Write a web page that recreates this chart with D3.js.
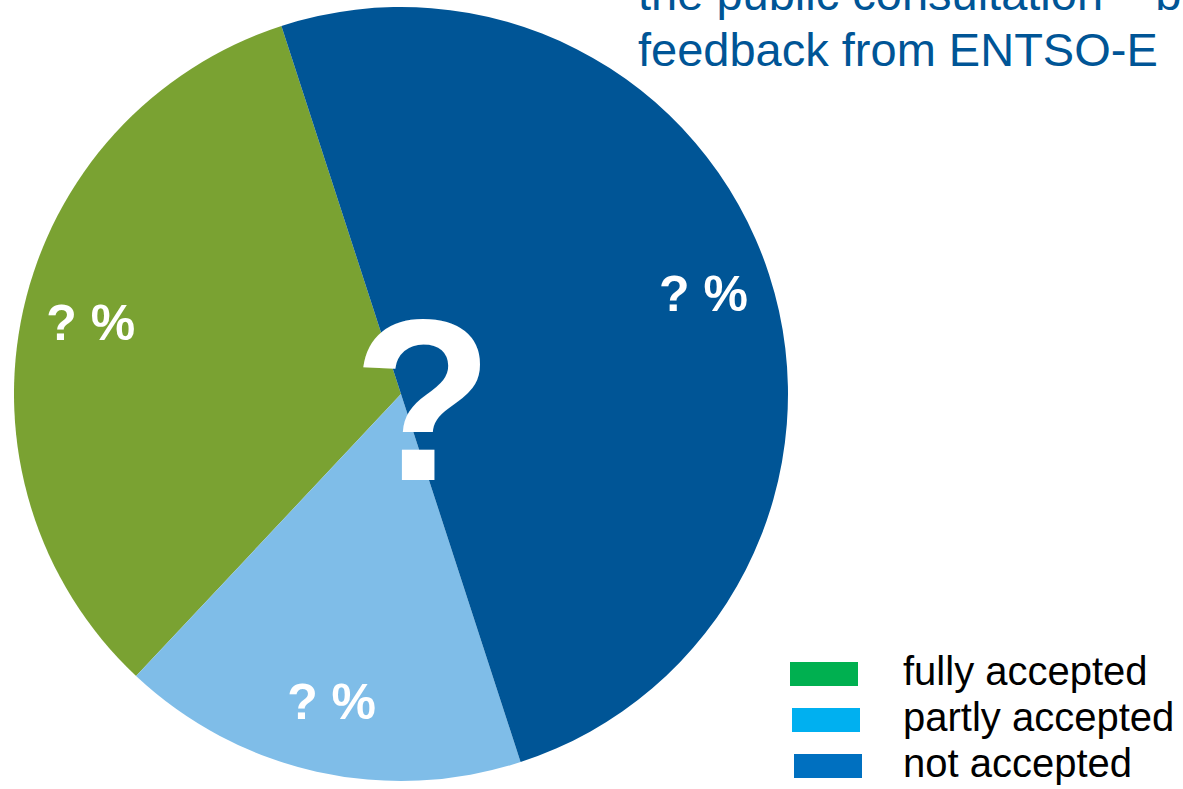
<!DOCTYPE html>
<html>
<head>
<meta charset="utf-8">
<script src="https://cdn.jsdelivr.net/npm/d3@7"></script>
<style>
  html, body { margin: 0; padding: 0; background: #fff; overflow: hidden; }
  svg { display: block; }
</style>
</head>
<body>
<svg id="chart" width="1183" height="789"></svg>
<script>
// ---- data ----
const categories = ["fully accepted", "partly accepted", "not accepted"];
const values = [33, 17, 50];
const sliceLabels = ["? %", "? %", "? %"];
const sliceColors = ["#7aa232", "#7fbde8", "#005596"];
const legendColors = ["#00b050", "#00b0f0", "#0070c0"];
const titleLines = ["the public consultation \u2013 based on", "feedback from ENTSO-E"];

const svg = d3.select("#chart");
const cx = 401, cy = 394, R = 387;
const deg = Math.PI / 180;

const data = categories.map((c, i) => ({ cat: c, value: values[i], label: sliceLabels[i], color: sliceColors[i], lcolor: legendColors[i] }));

// pie drawn counter-clockwise from ~342deg so that legend order matches
const pie = d3.pie().sort(null).value(d => d.value)
  .startAngle(342 * deg).endAngle(-18 * deg);
const arcs = pie(data);
const arc = d3.arc().innerRadius(0).outerRadius(R);
const labelArc = d3.arc().innerRadius(318).outerRadius(318);

const g = svg.append("g").attr("transform", `translate(${cx},${cy})`);
g.selectAll("path.slice").data(arcs).enter().append("path")
  .attr("class", "slice")
  .attr("d", arc)
  .attr("fill", d => d.data.color);

g.selectAll("text.lbl").data(arcs).enter().append("text")
  .attr("class", "lbl")
  .attr("transform", d => `translate(${labelArc.centroid(d)})`)
  .attr("text-anchor", "middle")
  .attr("dy", "0.3em")
  .attr("fill", "#fff")
  .style("font-family", "'Liberation Sans', Arial, sans-serif")
  .style("font-weight", "bold")
  .style("font-size", "50px")
  .text(d => d.data.label);

// big question mark overlay
g.append("text")
  .attr("x", 22).attr("y", 86)
  .attr("text-anchor", "middle")
  .attr("fill", "#fff")
  .style("font-family", "'Liberation Sans', Arial, sans-serif")
  .style("font-weight", "bold")
  .style("font-size", "230px")
  .text("?");

// title (clipped at top/right, as in reference)
svg.append("g").selectAll("text").data(titleLines).enter().append("text")
  .attr("x", 638)
  .attr("y", (d, i) => 10 + i * 56)
  .attr("fill", "#005596")
  .style("font-family", "'Liberation Sans', Arial, sans-serif")
  .style("font-size", "47px")
  .text(d => d);

// legend
const leg = svg.append("g");
const rows = leg.selectAll("g").data(data).enter().append("g")
  .attr("transform", (d, i) => `translate(0, ${i * 46})`);
rows.append("rect")
  .attr("x", (d, i) => 790 + i * 2)
  .attr("y", 662)
  .attr("width", 68).attr("height", 24)
  .attr("fill", d => d.lcolor);
rows.append("text")
  .attr("x", 903).attr("y", 685)
  .attr("fill", "#000")
  .style("font-family", "'Liberation Sans', Arial, sans-serif")
  .style("font-size", "40px")
  .text(d => d.cat);
</script>
</body>
</html>
